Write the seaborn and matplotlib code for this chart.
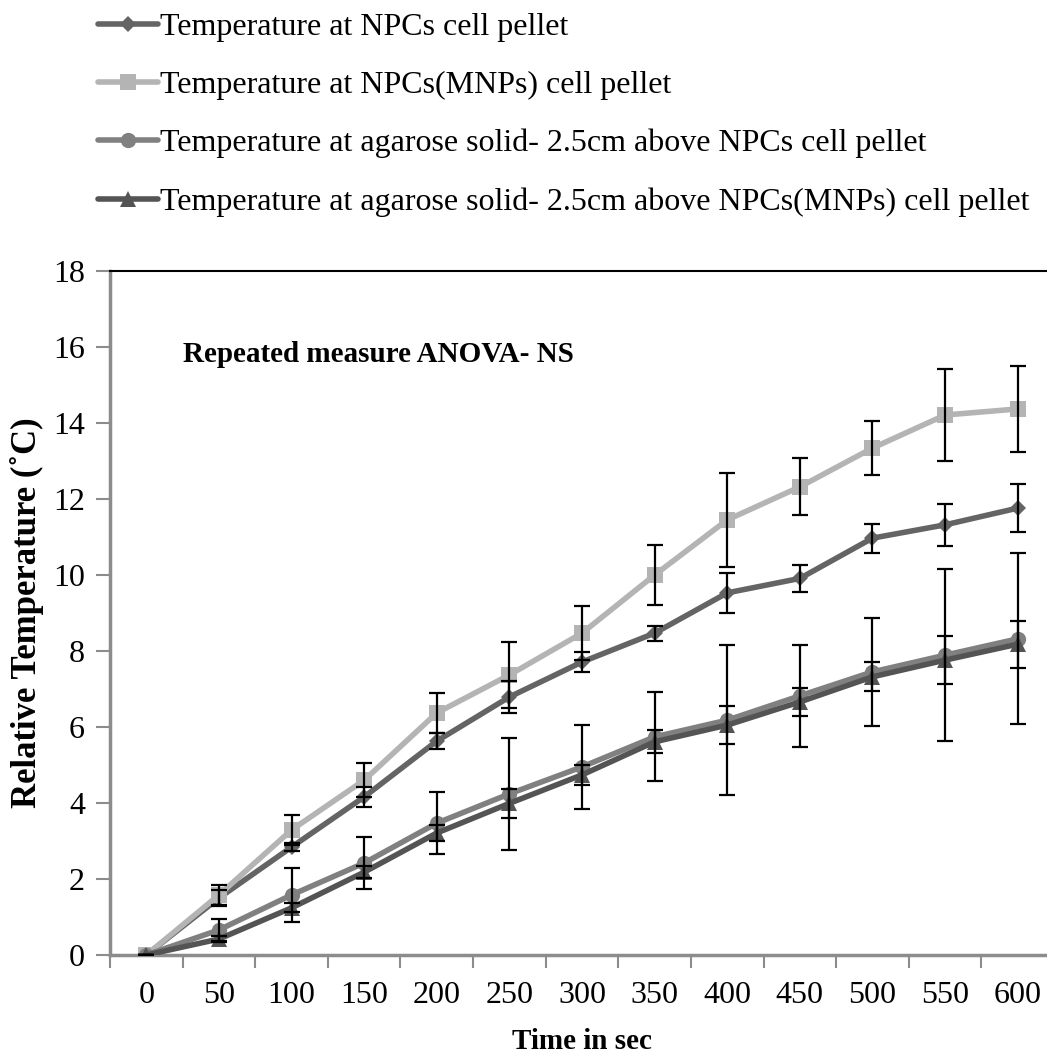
import pandas as pd
import matplotlib
matplotlib.use("Agg")
import matplotlib.pyplot as plt
import seaborn as sns
from matplotlib.lines import Line2D

# time points (s) and relative temperatures (deg C), mean +/- error
times = [0, 50, 100, 150, 200, 250, 300, 350, 400, 450, 500, 550, 600]

npc = [0, 1.50, 2.84, 4.16, 5.63, 6.79, 7.71, 8.47, 9.53, 9.91, 10.97, 11.32, 11.76]
npc_err = [0, 0.20, 0.10, 0.26, 0.22, 0.42, 0.26, 0.20, 0.52, 0.36, 0.38, 0.56, 0.63]

mnp = [0, 1.58, 3.29, 4.60, 6.37, 7.37, 8.47, 10.00, 11.45, 12.32, 13.34, 14.21, 14.37]
mnp_err = [0, 0.27, 0.40, 0.45, 0.52, 0.88, 0.71, 0.79, 1.23, 0.75, 0.70, 1.22, 1.12]

aga_npc = [0, 0.66, 1.58, 2.42, 3.47, 4.24, 4.95, 5.74, 6.18, 6.82, 7.45, 7.89, 8.32]
aga_npc_err = [0, 0.29, 0.71, 0.68, 0.82, 1.48, 1.10, 1.17, 1.97, 1.34, 1.42, 2.27, 2.25]

aga_mnp = [0, 0.42, 1.24, 2.18, 3.21, 3.99, 4.74, 5.61, 6.05, 6.66, 7.32, 7.76, 8.18]
aga_mnp_err = [0, 0.08, 0.12, 0.15, 0.20, 0.39, 0.27, 0.30, 0.50, 0.37, 0.38, 0.63, 0.62]

labels = [
    "Temperature at NPCs cell pellet",
    "Temperature at NPCs(MNPs) cell pellet",
    "Temperature at agarose solid- 2.5cm above NPCs cell pellet",
    "Temperature at agarose solid- 2.5cm above NPCs(MNPs) cell pellet",
]
colors = ["#646464", "#b4b4b4", "#808080", "#545454"]
markers = ["D", "s", "o", "^"]
msizes = [8, 11, 11, 11]

sns.set_theme(style="white")
plt.rcParams["font.family"] = ["Liberation Serif", "DejaVu Serif"]
plt.rcParams["text.color"] = "black"
plt.rcParams["axes.labelcolor"] = "black"

values = [npc, mnp, aga_npc, aga_mnp]
errors = [npc_err, mnp_err, aga_npc_err, aga_mnp_err]
df = pd.concat(
    [pd.DataFrame({"time": times, "temp": v, "series": lab}) for v, lab in zip(values, labels)],
    ignore_index=True,
)

fig = plt.figure(figsize=(10.47, 10.61), dpi=100)
ax = fig.add_axes([110 / 1047, 1 - 955 / 1061, (1054 - 110) / 1047, (955 - 271) / 1061])

for lab, col, mk, ms in zip(labels, colors, markers, msizes):
    sub = df[df["series"] == lab]
    sns.lineplot(data=sub, x="time", y="temp", color=col, marker=mk, markersize=ms,
                 markeredgewidth=0, lw=4, ax=ax, errorbar=None, zorder=3)

for v, e in zip(values, errors):
    ax.errorbar(times, v, yerr=e, fmt="none", ecolor="black", elinewidth=1.6,
                capsize=6, capthick=1.6, zorder=5)

ax.set_xlim(-25, 625)
ax.set_ylim(0, 18)
ax.set_xticks(times)
ax.set_xticklabels([str(t) for t in times])
ax.set_xticks([t - 25 for t in times] + [625], minor=True)
ax.set_yticks(range(0, 19, 2))

ax.tick_params(axis="x", which="major", length=0, pad=19, labelsize=23, labelcolor="black")
ax.tick_params(axis="x", which="minor", length=9, width=1.5, color="#8c8c8c", direction="out")
ax.tick_params(axis="y", length=10, width=1.5, color="#8c8c8c", direction="out", pad=8,
               labelsize=23, labelcolor="black")
ax.xaxis.set_ticks_position("bottom")
ax.yaxis.set_ticks_position("left")

for side in ["left", "bottom"]:
    ax.spines[side].set_color("#8c8c8c")
    ax.spines[side].set_linewidth(2.5)
ax.spines["top"].set_color("black")
ax.spines["top"].set_linewidth(1.5)
ax.spines["right"].set_visible(False)

ax.set_xlabel("Time in sec", fontsize=21, fontweight="bold", va="center")
ax.set_ylabel("Relative Temperature (\u02daC)", fontsize=25, fontweight="bold", va="center")
ax.xaxis.set_label_coords(0.5, -0.127)
ax.yaxis.set_label_coords(-0.088, 0.5)

ax.text(25, 15.8, "Repeated measure ANOVA- NS", fontsize=21, fontweight="bold",
        va="center", ha="left", color="black")

handles = [Line2D([0], [0], color=c, lw=4, marker=m, markersize=s, markeredgewidth=0)
           for c, m, s in zip(colors, markers, msizes)]
fig.legend(handles, labels, loc="upper left", bbox_to_anchor=(85 / 1047, 1.0),
           frameon=False, fontsize=23, handlelength=1.9, handletextpad=0.05,
           labelspacing=0.9, borderaxespad=0, labelcolor="black")

fig.savefig("out.png", dpi=100)
